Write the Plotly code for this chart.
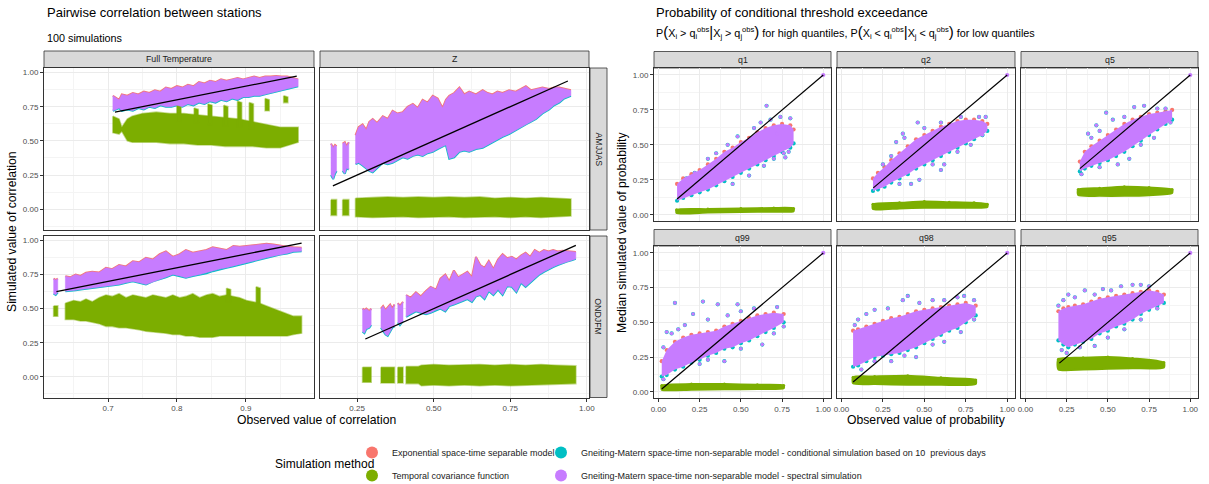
import plotly.graph_objects as go

W, H = 1209, 484
RED, GREEN, CYAN, PURPLE = "#F8766D", "#7CAE00", "#00BFC4", "#C77CFF"
FONT = "Liberation Sans, Arial, sans-serif"

methods = [
    "Exponential space-time separable model",
    "Temporal covariance function",
    "Gneiting-Matern space-time non-separable model - conditional simulation based on 10  previous days",
    "Gneiting-Matern space-time non-separable model - spectral simulation",
]
corr_cols = ["Full Temperature", "Z"]
corr_rows = ["AMJJAS", "ONDJFM"]
prob_panels = ["q1", "q2", "q5", "q99", "q98", "q95"]

# ---------------- Pairwise correlation: envelopes of the 100 simulations (None = gap between station groups)
# Full Temperature / AMJJAS
ft_amjjas_sim_x = [0.707,0.712,0.716,0.72,0.728,0.736,0.744,0.752,0.76,0.768,0.776,0.784,0.792,0.80,0.808,0.816,0.824,0.832,0.84,0.848,0.856,0.864,0.872,0.88,0.888,0.896,0.904,0.912,0.92,0.928,0.936,0.944,0.952,0.96,0.968,0.976]
ft_amjjas_sim_hi = [0.83,0.81,0.80,0.84,0.83,0.85,0.84,0.86,0.85,0.87,0.86,0.89,0.88,0.90,0.89,0.91,0.90,0.93,0.92,0.94,0.93,0.95,0.94,0.95,0.96,0.95,0.96,0.97,0.96,0.97,0.97,0.975,0.97,0.97,0.96,0.95]
ft_amjjas_sim_lo = [0.72,0.73,0.74,0.72,0.73,0.72,0.74,0.73,0.75,0.74,0.76,0.75,0.75,0.76,0.75,0.77,0.76,0.78,0.77,0.79,0.78,0.80,0.79,0.81,0.80,0.82,0.82,0.83,0.83,0.84,0.85,0.86,0.87,0.88,0.89,0.90]
ft_amjjas_tcf_x = [0.707,0.716,0.72,0.728,0.735,0.75,0.77,0.79,0.81,0.83,0.85,0.87,0.89,0.91,0.93,0.95,0.976,None,
                   0.800,0.806,None,0.825,0.831,None,0.845,0.851,None,0.868,0.874,None,0.888,0.894,None,0.905,0.911,None,0.928,0.934,None,0.955,0.961]
ft_amjjas_tcf_hi = [0.68,0.66,0.60,0.66,0.68,0.70,0.71,0.70,0.70,0.69,0.68,0.67,0.66,0.64,0.62,0.60,0.60,None,
                    0.76,0.75,None,0.74,0.73,None,0.77,0.76,None,0.76,0.75,None,0.79,0.78,None,0.78,0.77,None,0.81,0.80,None,0.83,0.82]
ft_amjjas_tcf_lo = [0.56,0.55,0.57,0.50,0.49,0.49,0.49,0.48,0.48,0.47,0.47,0.46,0.46,0.46,0.45,0.45,0.49,None,
                    0.64,0.64,None,0.63,0.63,None,0.62,0.62,None,0.61,0.61,None,0.60,0.60,None,0.59,0.59,None,0.72,0.72,None,0.78,0.78]
ft_amjjas_obs = [0.71, 0.974]

# Z / AMJJAS
z_amjjas_sim_x = [0.165,0.172,0.178,0.183,None,0.203,0.21,0.216,0.223,None,
                  0.245,0.255,0.268,0.28,0.29,0.301,0.315,0.334,0.35,0.366,0.382,0.399,0.415,0.432,0.448,0.464,0.48,0.497,0.513,0.529,
                  0.54,0.551,0.567,0.584,0.60,0.616,0.638,0.66,0.676,0.692,0.708,0.725,0.746,0.768,0.785,0.801,0.818,0.834,0.855,0.877,
                  0.893,0.91,0.926,0.948]
z_amjjas_sim_hi = [0.48,0.45,0.47,0.46,None,0.48,0.49,0.46,0.49,None,
                   0.54,0.60,0.62,0.58,0.64,0.66,0.63,0.68,0.66,0.72,0.70,0.71,0.75,0.77,0.74,0.80,0.78,0.83,0.81,0.74,
                   0.80,0.83,0.85,0.89,0.84,0.86,0.84,0.87,0.85,0.84,0.86,0.85,0.87,0.86,0.88,0.90,0.87,0.88,0.89,0.88,
                   0.89,0.89,0.88,0.87]
z_amjjas_sim_lo = [0.25,0.22,0.26,0.28,None,0.28,0.26,0.30,0.29,None,
                   0.33,0.34,0.32,0.30,0.28,0.27,0.30,0.34,0.33,0.34,0.36,0.38,0.37,0.39,0.40,0.39,0.41,0.42,0.44,0.46,
                   0.47,0.37,0.38,0.42,0.43,0.42,0.44,0.45,0.47,0.49,0.51,0.53,0.55,0.58,0.60,0.62,0.64,0.66,0.70,0.73,
                   0.76,0.78,0.81,0.83]
z_amjjas_tcf_x = [0.165,0.183,None,0.203,0.223,None,0.245,0.3,0.35,0.4,0.45,0.5,0.55,0.6,0.65,0.7,0.75,0.8,0.85,0.9,0.948]
z_amjjas_tcf_hi = [0.07,0.07,None,0.07,0.07,None,0.08,0.085,0.09,0.085,0.09,0.085,0.09,0.085,0.09,0.08,0.085,0.08,0.085,0.08,0.075]
z_amjjas_tcf_lo = [-0.045,-0.045,None,-0.045,-0.045,None,-0.055,-0.06,-0.06,-0.055,-0.06,-0.06,-0.055,-0.06,-0.06,-0.055,-0.06,-0.055,-0.06,-0.055,-0.05]
z_amjjas_obs = [0.171, 0.938]

# Full Temperature / ONDJFM
ft_ondjfm_sim_x = [0.621,0.624,0.627,None,
                   0.638,0.645,0.653,0.66,0.668,0.677,0.687,0.697,0.706,0.716,0.726,0.736,0.745,0.755,0.765,0.775,0.784,0.794,0.804,0.813,
                   0.823,0.833,0.843,0.852,0.862,0.872,0.882,0.891,0.901,0.911,0.92,0.93,0.94,0.95,0.96,0.969,0.981]
ft_ondjfm_sim_hi = [0.72,0.71,0.72,None,
                    0.738,0.73,0.75,0.74,0.763,0.77,0.765,0.80,0.79,0.82,0.81,0.848,0.84,0.873,0.86,0.90,0.92,0.88,0.90,0.93,
                    0.91,0.92,0.93,0.95,0.94,0.93,0.96,0.955,0.96,0.965,0.97,0.976,0.97,0.96,0.955,0.95,0.946]
ft_ondjfm_sim_lo = [0.61,0.60,0.62,None,
                    0.628,0.63,0.635,0.64,0.645,0.653,0.66,0.665,0.67,0.677,0.69,0.70,0.69,0.677,0.70,0.714,0.73,0.75,0.74,0.726,
                    0.74,0.75,0.76,0.775,0.79,0.80,0.81,0.824,0.835,0.848,0.86,0.873,0.885,0.897,0.905,0.917,0.922]
ft_ondjfm_tcf_x = [0.621,0.627,None,
                   0.638,0.65,0.66,0.668,0.677,0.687,0.697,0.706,0.716,0.726,0.736,0.745,0.755,0.765,0.775,0.784,0.794,0.804,0.813,0.823,
                   0.833,0.843,0.852,0.862,0.872,0.882,0.891,0.901,0.911,0.92,0.93,0.94,0.95,0.96,0.969,0.981,None,
                   0.872,0.878,None,0.915,0.921]
ft_ondjfm_tcf_hi = [0.52,0.52,None,
                    0.54,0.56,0.55,0.57,0.55,0.58,0.60,0.59,0.61,0.58,0.60,0.59,0.58,0.60,0.59,0.58,0.60,0.58,0.59,0.61,
                    0.58,0.60,0.61,0.59,0.60,0.59,0.58,0.56,0.55,0.54,0.52,0.50,0.48,0.46,0.445,0.445,None,
                    0.65,0.64,None,0.66,0.65]
ft_ondjfm_tcf_lo = [0.445,0.445,None,
                    0.42,0.42,0.41,0.41,0.40,0.39,0.37,0.37,0.36,0.36,0.35,0.345,0.335,0.33,0.323,0.32,0.31,0.31,0.30,0.30,
                    0.29,0.29,0.29,0.30,0.305,0.30,0.30,0.30,0.30,0.30,0.305,0.30,0.30,0.30,0.31,0.32,None,
                    0.55,0.55,None,0.54,0.54]
ft_ondjfm_obs = [0.625, 0.981]

# Z / ONDJFM
z_ondjfm_sim_x = [0.268,0.274,0.28,0.29,0.296,None,0.328,0.335,0.343,0.35,0.358,0.365,0.372,None,0.383,0.39,0.40,None,
                  0.41,0.425,0.442,0.458,0.475,0.49,0.508,0.522,0.538,0.551,0.566,0.58,0.595,0.61,0.625,0.638,0.652,0.666,0.68,0.695,
                  0.71,0.725,0.74,0.755,0.77,0.785,0.8,0.815,0.83,0.845,0.86,0.875,0.89,0.905,0.92,0.935,0.95,0.964]
z_ondjfm_sim_hi = [0.50,0.49,0.50,0.48,0.50,None,0.50,0.52,0.49,0.51,0.53,0.50,0.53,None,0.54,0.52,0.55,None,
                   0.60,0.58,0.62,0.59,0.63,0.66,0.64,0.72,0.75,0.70,0.78,0.73,0.75,0.77,0.73,0.88,0.82,0.80,0.85,0.79,
                   0.86,0.90,0.87,0.88,0.86,0.89,0.91,0.88,0.93,0.91,0.93,0.92,0.93,0.92,0.925,0.92,0.915,0.915]
z_ondjfm_sim_lo = [0.33,0.32,0.35,0.36,0.38,None,0.36,0.34,0.31,0.30,0.33,0.36,0.37,None,0.40,0.38,0.41,None,
                   0.44,0.46,0.48,0.47,0.46,0.47,0.49,0.50,0.48,0.52,0.53,0.54,0.555,0.57,0.55,0.59,0.60,0.57,0.63,0.60,
                   0.64,0.60,0.665,0.66,0.62,0.69,0.66,0.69,0.72,0.75,0.77,0.79,0.805,0.82,0.835,0.845,0.855,0.865]
z_ondjfm_tcf_x = [0.268,0.296,None,0.328,0.372,None,0.383,0.40,None,0.41,0.45,0.46,0.5,0.55,0.6,0.65,0.7,0.75,0.8,0.85,0.9,0.964]
z_ondjfm_tcf_hi = [0.07,0.07,None,0.07,0.07,None,0.07,0.07,None,0.075,0.075,0.085,0.09,0.085,0.09,0.09,0.085,0.09,0.085,0.09,0.085,0.08]
z_ondjfm_tcf_lo = [-0.04,-0.04,None,-0.045,-0.045,None,-0.045,-0.045,None,-0.05,-0.05,-0.065,-0.06,-0.065,-0.06,-0.065,-0.06,-0.065,-0.06,-0.06,-0.055,-0.05]
z_ondjfm_obs = [0.277, 0.964]

# ---------------- Conditional threshold exceedance: median simulated probability (envelopes, outliers, temporal band)
q1_x = [0.113,0.15,0.2,0.25,0.3,0.35,0.4,0.45,0.5,0.55,0.6,0.65,0.7,0.75,0.8,0.82]
q1_hi = [0.22,0.26,0.29,0.32,0.36,0.40,0.45,0.48,0.52,0.55,0.59,0.62,0.64,0.65,0.64,0.61]
q1_lo = [0.10,0.12,0.14,0.16,0.18,0.21,0.24,0.27,0.30,0.33,0.36,0.39,0.42,0.45,0.48,0.51]
q1_out_x = [0.656,0.62,0.48,0.72,0.76,0.79,0.30,0.55,0.17,0.80,0.22,0.35,0.42,0.58,0.68,0.74,0.45,0.64,0.70,0.77]
q1_out_y = [0.78,0.66,0.56,0.58,0.44,0.45,0.40,0.28,0.26,0.69,0.30,0.44,0.50,0.62,0.68,0.70,0.22,0.35,0.40,0.41]
q1_tcf_x = [0.11,0.3,0.5,0.7,0.82]
q1_tcf_lo = [0.012,0.016,0.02,0.022,0.025]
q1_tcf_hi = [0.035,0.04,0.045,0.048,0.045]
q1_obs_min = 0.113

q2_x = [0.19,0.22,0.26,0.3,0.35,0.4,0.45,0.5,0.55,0.6,0.65,0.7,0.75,0.8,0.85,0.88]
q2_hi = [0.26,0.30,0.34,0.39,0.44,0.49,0.54,0.57,0.60,0.63,0.65,0.67,0.68,0.68,0.67,0.65]
q2_lo = [0.17,0.18,0.20,0.23,0.26,0.29,0.33,0.36,0.39,0.42,0.45,0.48,0.51,0.54,0.57,0.60]
q2_out_x = [0.33,0.37,0.46,0.42,0.47,0.60,0.38,0.83,0.87,0.62,0.25,0.30,0.50,0.60,0.72,0.35,0.55,0.70,0.78,0.85]
q2_out_y = [0.52,0.58,0.66,0.22,0.25,0.32,0.55,0.70,0.70,0.36,0.36,0.42,0.62,0.66,0.70,0.22,0.36,0.45,0.50,0.57]
q2_tcf_x = [0.19,0.35,0.5,0.65,0.8,0.88]
q2_tcf_lo = [0.04,0.045,0.05,0.05,0.05,0.055]
q2_tcf_hi = [0.075,0.085,0.095,0.09,0.085,0.075]
q2_obs_min = 0.192

q5_x = [0.33,0.36,0.4,0.45,0.5,0.55,0.6,0.65,0.7,0.75,0.8,0.85,0.89]
q5_hi = [0.38,0.45,0.49,0.53,0.57,0.61,0.65,0.68,0.70,0.72,0.73,0.74,0.75]
q5_lo = [0.31,0.33,0.35,0.37,0.39,0.42,0.45,0.49,0.53,0.57,0.61,0.65,0.68]
q5_out_x = [0.49,0.43,0.53,0.66,0.72,0.38,0.56,0.63,0.34,0.40,0.45,0.60,0.80,0.85,0.45,0.70,0.78,0.88]
q5_out_y = [0.73,0.64,0.68,0.77,0.78,0.58,0.36,0.40,0.29,0.55,0.60,0.70,0.76,0.76,0.34,0.50,0.55,0.66]
q5_tcf_x = [0.32,0.45,0.6,0.75,0.89]
q5_tcf_lo = [0.14,0.135,0.135,0.14,0.155]
q5_tcf_hi = [0.18,0.19,0.2,0.195,0.18]
q5_obs_min = 0.33

q99_x = [0.02,0.05,0.1,0.15,0.2,0.25,0.3,0.35,0.4,0.45,0.5,0.55,0.6,0.65,0.7,0.76]
q99_hi = [0.22,0.30,0.36,0.39,0.41,0.42,0.43,0.44,0.47,0.49,0.51,0.53,0.55,0.56,0.57,0.56]
q99_lo = [0.11,0.12,0.16,0.18,0.21,0.23,0.26,0.28,0.31,0.32,0.35,0.37,0.40,0.43,0.46,0.50]
q99_out_x = [0.10,0.27,0.36,0.48,0.05,0.21,0.16,0.40,0.58,0.72,0.63,0.03,0.08,0.12,0.30,0.42,0.50,0.25,0.30,0.50,0.70,0.76,0.03]
q99_out_y = [0.64,0.65,0.63,0.63,0.43,0.56,0.48,0.22,0.60,0.61,0.34,0.32,0.42,0.45,0.52,0.55,0.58,0.20,0.23,0.31,0.42,0.47,0.09]
q99_tcf_x = [0.02,0.2,0.4,0.6,0.76]
q99_tcf_lo = [0.015,0.015,0.018,0.02,0.025]
q99_tcf_hi = [0.045,0.055,0.055,0.05,0.045]
q99_obs_min = 0.02

q98_x = [0.07,0.1,0.15,0.2,0.25,0.3,0.35,0.4,0.45,0.5,0.55,0.6,0.65,0.7,0.75,0.81]
q98_hi = [0.44,0.45,0.47,0.49,0.51,0.53,0.54,0.56,0.58,0.59,0.60,0.61,0.62,0.63,0.64,0.62]
q98_lo = [0.18,0.19,0.22,0.25,0.26,0.27,0.28,0.30,0.32,0.35,0.38,0.41,0.44,0.46,0.50,0.55]
q98_out_x = [0.40,0.74,0.08,0.20,0.37,0.55,0.30,0.45,0.62,0.80,0.10,0.15,0.28,0.47,0.62,0.70,0.12,0.20,0.38,0.55,0.72,0.80]
q98_out_y = [0.69,0.69,0.48,0.59,0.66,0.66,0.22,0.25,0.36,0.66,0.52,0.56,0.60,0.64,0.66,0.68,0.16,0.22,0.26,0.34,0.43,0.52]
q98_tcf_x = [0.07,0.2,0.4,0.6,0.81]
q98_tcf_lo = [0.06,0.055,0.05,0.05,0.055]
q98_tcf_hi = [0.105,0.11,0.115,0.1,0.085]
q98_obs_min = 0.07

q95_x = [0.2,0.23,0.26,0.3,0.35,0.4,0.45,0.5,0.55,0.6,0.65,0.7,0.75,0.8,0.84]
q95_hi = [0.58,0.60,0.61,0.62,0.63,0.65,0.67,0.68,0.69,0.70,0.71,0.72,0.73,0.72,0.70]
q95_lo = [0.37,0.34,0.32,0.34,0.36,0.38,0.42,0.44,0.47,0.49,0.52,0.56,0.59,0.62,0.64]
q95_out_x = [0.36,0.65,0.58,0.26,0.47,0.70,0.22,0.42,0.50,0.20,0.23,0.30,0.42,0.52,0.75,0.25,0.33,0.60,0.70,0.80]
q95_out_y = [0.73,0.77,0.76,0.70,0.74,0.77,0.30,0.33,0.39,0.62,0.66,0.68,0.70,0.73,0.76,0.28,0.32,0.45,0.52,0.60]
q95_tcf_x = [0.2,0.35,0.5,0.65,0.84]
q95_tcf_lo = [0.16,0.16,0.165,0.17,0.175]
q95_tcf_hi = [0.235,0.245,0.25,0.24,0.21]
q95_obs_min = 0.206

self_pair_x = [1.0]
self_pair_y = [1.0]

# ---------------------------------------------------------------- helpers
def band(x, lo, hi):
    """Closed polygons (one per run between None gaps) from envelope lists."""
    px, py, run = [], [], []
    for xi, l, h in zip(list(x) + [None], list(lo) + [None], list(hi) + [None]):
        if xi is None:
            if run:
                xs = [r[0] for r in run]
                ls = [r[1] for r in run]
                hs = [r[2] for r in run]
                px += xs + xs[::-1] + [xs[0], None]
                py += hs + ls[::-1] + [hs[0], None]
                run = []
        else:
            run.append((xi, l, h))
    return px, py


def pxx(v):
    return v / W


def pxy(v):
    return 1 - v / H


fig = go.Figure()

# panel geometry in pixels: (x0, x1, y0, y1)
geo = {
    1: (44, 314, 68, 230), 2: (320, 589, 68, 230),
    3: (44, 314, 236, 397.5), 4: (320, 589, 236, 397.5),
    5: (654, 831, 68, 221), 6: (837, 1015, 68, 221), 7: (1021, 1198, 68, 221),
    8: (654, 831, 246, 398), 9: (837, 1015, 246, 398), 10: (1021, 1198, 246, 398),
}


def axref(i):
    return ("x" if i == 1 else f"x{i}"), ("y" if i == 1 else f"y{i}")


def add_corr(i, sx, slo, shi, tx, tlo, thi, obs):
    xa, ya = axref(i)
    fig.add_trace(go.Scatter(x=sx, y=shi, mode="lines", line=dict(color=RED, width=2),
                             xaxis=xa, yaxis=ya, showlegend=False, hoverinfo="skip"))
    fig.add_trace(go.Scatter(x=sx, y=slo, mode="lines", line=dict(color=CYAN, width=2),
                             xaxis=xa, yaxis=ya, showlegend=False, hoverinfo="skip"))
    bx, by = band(tx, tlo, thi)
    fig.add_trace(go.Scatter(x=bx, y=by, mode="lines", fill="toself", fillcolor=GREEN,
                             line=dict(color="rgba(124,174,0,0.45)", width=1.6),
                             xaxis=xa, yaxis=ya, showlegend=False, hoverinfo="skip"))
    bx, by = band(sx, slo, shi)
    fig.add_trace(go.Scatter(x=bx, y=by, mode="lines", fill="toself", fillcolor=PURPLE,
                             line=dict(color="rgba(199,124,255,0.6)", width=0.8),
                             xaxis=xa, yaxis=ya, showlegend=False, hoverinfo="skip"))
    fig.add_trace(go.Scatter(x=obs, y=obs, mode="lines", line=dict(color="black", width=1.3),
                             xaxis=xa, yaxis=ya, showlegend=False, hoverinfo="skip"))


def add_prob(i, x, lo, hi, ox, oy, tx, tlo, thi, omin, legend=False):
    xa, ya = axref(i)
    ms = 4.2
    fig.add_trace(go.Scatter(x=x, y=hi, mode="markers", marker=dict(color=RED, size=ms),
                             xaxis=xa, yaxis=ya, name=methods[0], showlegend=legend,
                             legend="legend", legendrank=1, legendgroup="m0", hoverinfo="skip"))
    bx, by = band(tx, tlo, thi)
    fig.add_trace(go.Scatter(x=bx, y=by, mode="lines", fill="toself", fillcolor=GREEN,
                             line=dict(color=GREEN, width=2, shape="spline", smoothing=0.6),
                             xaxis=xa, yaxis=ya, showlegend=False, hoverinfo="skip"))
    fig.add_trace(go.Scatter(x=tx, y=thi, mode="markers", marker=dict(color=GREEN, size=3),
                             xaxis=xa, yaxis=ya, name=methods[1], showlegend=legend,
                             legend="legend", legendrank=2, legendgroup="m1", hoverinfo="skip"))
    fig.add_trace(go.Scatter(x=x, y=lo, mode="markers", marker=dict(color=CYAN, size=ms),
                             xaxis=xa, yaxis=ya, name=methods[2], showlegend=legend,
                             legend="legend2", legendrank=1, legendgroup="m2", hoverinfo="skip"))
    fig.add_trace(go.Scatter(x=ox, y=oy, mode="markers", marker=dict(color=CYAN, size=ms),
                             xaxis=xa, yaxis=ya, showlegend=False, hoverinfo="skip"))
    bx, by = band(x, lo, hi)
    fig.add_trace(go.Scatter(x=bx, y=by, mode="lines", fill="toself", fillcolor=PURPLE,
                             line=dict(color=PURPLE, width=0),
                             xaxis=xa, yaxis=ya, showlegend=False, hoverinfo="skip"))
    fig.add_trace(go.Scatter(x=ox, y=oy, mode="markers", marker=dict(color=PURPLE, size=ms - 0.6),
                             xaxis=xa, yaxis=ya, name=methods[3], showlegend=legend,
                             legend="legend2", legendrank=2, legendgroup="m3", hoverinfo="skip"))
    fig.add_trace(go.Scatter(x=self_pair_x, y=self_pair_y, mode="markers",
                             marker=dict(color=PURPLE, size=ms),
                             xaxis=xa, yaxis=ya, showlegend=False, hoverinfo="skip"))
    fig.add_trace(go.Scatter(x=[omin, 1.0], y=[omin, 1.0], mode="lines",
                             line=dict(color="black", width=1.2),
                             xaxis=xa, yaxis=ya, showlegend=False, hoverinfo="skip"))


add_corr(1, ft_amjjas_sim_x, ft_amjjas_sim_lo, ft_amjjas_sim_hi,
         ft_amjjas_tcf_x, ft_amjjas_tcf_lo, ft_amjjas_tcf_hi, ft_amjjas_obs)
add_corr(2, z_amjjas_sim_x, z_amjjas_sim_lo, z_amjjas_sim_hi,
         z_amjjas_tcf_x, z_amjjas_tcf_lo, z_amjjas_tcf_hi, z_amjjas_obs)
add_corr(3, ft_ondjfm_sim_x, ft_ondjfm_sim_lo, ft_ondjfm_sim_hi,
         ft_ondjfm_tcf_x, ft_ondjfm_tcf_lo, ft_ondjfm_tcf_hi, ft_ondjfm_obs)
add_corr(4, z_ondjfm_sim_x, z_ondjfm_sim_lo, z_ondjfm_sim_hi,
         z_ondjfm_tcf_x, z_ondjfm_tcf_lo, z_ondjfm_tcf_hi, z_ondjfm_obs)

add_prob(5, q1_x, q1_lo, q1_hi, q1_out_x, q1_out_y, q1_tcf_x, q1_tcf_lo, q1_tcf_hi, q1_obs_min, legend=True)
add_prob(6, q2_x, q2_lo, q2_hi, q2_out_x, q2_out_y, q2_tcf_x, q2_tcf_lo, q2_tcf_hi, q2_obs_min)
add_prob(7, q5_x, q5_lo, q5_hi, q5_out_x, q5_out_y, q5_tcf_x, q5_tcf_lo, q5_tcf_hi, q5_obs_min)
add_prob(8, q99_x, q99_lo, q99_hi, q99_out_x, q99_out_y, q99_tcf_x, q99_tcf_lo, q99_tcf_hi, q99_obs_min)
add_prob(9, q98_x, q98_lo, q98_hi, q98_out_x, q98_out_y, q98_tcf_x, q98_tcf_lo, q98_tcf_hi, q98_obs_min)
add_prob(10, q95_x, q95_lo, q95_hi, q95_out_x, q95_out_y, q95_tcf_x, q95_tcf_lo, q95_tcf_hi, q95_obs_min)

# ---------------------------------------------------------------- axes
TICKFONT = dict(family=FONT, size=8, color="#4D4D4D")


def make_axis(dom, rng, tick0, dtick, fmt, show, anchor):
    return dict(domain=dom, range=rng, anchor=anchor, automargin=False, showline=True, mirror=True,
                linecolor="#333333", linewidth=1, gridcolor="#EBEBEB", gridwidth=1,
                zeroline=False, tickfont=TICKFONT, tick0=tick0, dtick=dtick,
                tickformat=fmt, showticklabels=show, ticks="outside" if show else "",
                ticklen=3, tickcolor="#333333", tickwidth=1, fixedrange=True,
                minor=dict(tick0=tick0 - dtick / 2, dtick=dtick, showgrid=True,
                           gridcolor="#F4F4F4", gridwidth=0.6, ticks=""))


layout_axes = {}
for i, (x0, x1, y0, y1) in geo.items():
    xd = [pxx(x0), pxx(x1)]
    yd = [pxy(y1), pxy(y0)]
    xa, ya = axref(i)
    xkey = "xaxis" if i == 1 else f"xaxis{i}"
    ykey = "yaxis" if i == 1 else f"yaxis{i}"
    if i in (1, 3):
        xr, t0, dt, fx = [0.607, 0.999], 0.7, 0.1, ".1f"
    elif i in (2, 4):
        xr, t0, dt, fx = [0.129, 1.007], 0.25, 0.25, ".2f"
    else:
        xr, t0, dt, fx = [-0.027, 1.047], 0.0, 0.25, ".2f"
    yr = [-0.152, 1.033] if i <= 4 else [-0.045, 1.05]
    showx = i in (3, 4, 8, 9, 10)
    showy = i in (1, 3, 5, 8)
    layout_axes[xkey] = make_axis(xd, xr, t0, dt, fx, showx, ya)
    layout_axes[ykey] = make_axis(yd, yr, 0.0, 0.25, ".2f", showy, xa)

fig.update_layout(**layout_axes)

# ---------------------------------------------------------------- strips, titles
shapes, ann = [], []


def strip(x0, x1, y0, y1, text, vertical=False):
    shapes.append(dict(type="rect", xref="paper", yref="paper",
                       x0=pxx(x0), x1=pxx(x1), y0=pxy(y1), y1=pxy(y0),
                       fillcolor="#D9D9D9", line=dict(color="#333333", width=0.8), layer="below"))
    ann.append(dict(x=pxx((x0 + x1) / 2), y=pxy((y0 + y1) / 2), xref="paper", yref="paper",
                    text=text, showarrow=False, textangle=90 if vertical else 0,
                    font=dict(family=FONT, size=8.8, color="#1A1A1A"),
                    xanchor="center", yanchor="middle"))


strip(44, 314, 51, 67.5, corr_cols[0])
strip(320, 589, 51, 67.5, corr_cols[1])
strip(590, 607, 68, 230, corr_rows[0], vertical=True)
strip(590, 607, 236, 397.5, corr_rows[1], vertical=True)
for name, i in zip(prob_panels, range(5, 11)):
    x0, x1, y0, y1 = geo[i]
    strip(x0, x1, y0 - 16.5, y0, name)


def text(x, y, s, size, anchor="left", angle=0, color="black"):
    ann.append(dict(x=pxx(x), y=pxy(y), xref="paper", yref="paper", text=s, showarrow=False,
                    font=dict(family=FONT, size=size, color=color), xanchor=anchor,
                    yanchor="middle", textangle=angle))


text(45, 12, "Pairwise correlation between stations", 13)
text(45, 38, "100 simulations", 10.8)
text(654, 12, "Probability of conditional threshold exceedance", 13)
LP = "<span style='font-size:15px'>(</span>"
RP = "<span style='font-size:15px'>)</span>"
BAR = "<span style='font-size:15px'>|</span>"
sub = (f"P{LP}X<sub>i</sub> &gt; q<sub>i</sub><sup>obs</sup>{BAR}X<sub>j</sub> &gt; q<sub>j</sub><sup>obs</sup>{RP} for high quantiles, "
       f"P{LP}X<sub>i</sub> &lt; q<sub>i</sub><sup>obs</sup>{BAR}X<sub>j</sub> &lt; q<sub>j</sub><sup>obs</sup>{RP} for low quantiles")
text(654, 32, sub, 10.8)
text(12, 232, "Simulated value of correlation", 12.2, anchor="center", angle=-90)
text(316, 420, "Observed value of correlation", 12.2, anchor="center")
text(622, 233, "Median simulated value of probability", 12.2, anchor="center", angle=-90)
text(926, 420, "Observed value of probability", 12.2, anchor="center")
text(273, 464, "Simulation method", 12)

legend_common = dict(yanchor="bottom", xanchor="left", bgcolor="rgba(0,0,0,0)",
                     font=dict(family=FONT, size=9, color="#1A1A1A"),
                     itemsizing="constant", tracegroupgap=4, orientation="v",
                     traceorder="grouped")
fig.update_layout(
    width=W, height=H, margin=dict(l=0, r=0, t=0, b=0, autoexpand=False),
    paper_bgcolor="white", plot_bgcolor="white",
    font=dict(family=FONT),
    shapes=shapes, annotations=ann,
    showlegend=True,
    legend=dict(x=pxx(352), y=-6 / H, **legend_common),
    legend2=dict(x=pxx(541), y=-6 / H, **legend_common),
)

fig.write_html("out.html", config={"displayModeBar": False},
               post_script="document.body.style.margin='0px';document.body.style.overflow='hidden';")
